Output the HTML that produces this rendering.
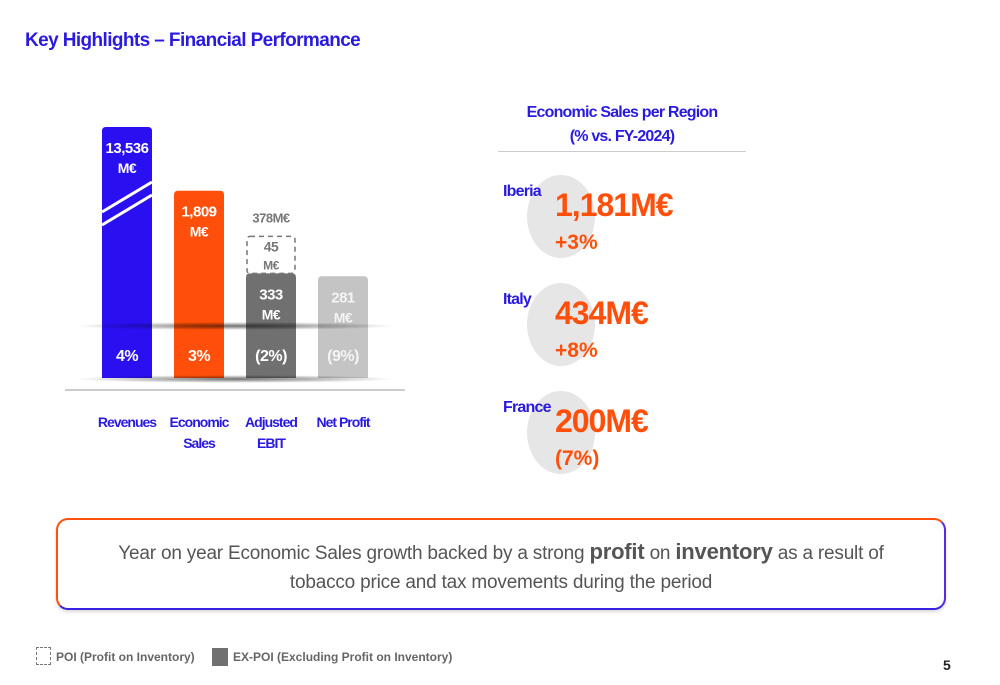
<!DOCTYPE html>
<html><head><meta charset="utf-8"><style>
body{margin:0;width:1000px;height:685px;background:#fff;font-family:"Liberation Sans",sans-serif;position:relative;overflow:hidden}
.t{position:absolute;font-weight:bold}
</style></head><body>
<div class="t" style="left:25px;top:30px;font-size:19px;color:#2a1ae0;letter-spacing:-0.6px">Key Highlights – Financial Performance</div>
<svg id="chart" width="1000" height="685" style="position:absolute;left:0;top:0" font-family="Liberation Sans, sans-serif">
<defs>
<radialGradient id="sh" cx="0.5" cy="0.5" r="0.5"><stop offset="0" stop-color="#000" stop-opacity="0.55"/><stop offset="1" stop-color="#000" stop-opacity="0"/></radialGradient>
</defs>
<g id="bars"></g>
<line x1="65" y1="390" x2="405" y2="390" stroke="#bbb" stroke-width="1.5"/>
</svg>
<div class="t" style="left:498px;top:101px;width:248px;text-align:center;font-size:16px;color:#2a1ae0;line-height:24px;letter-spacing:-0.8px">Economic Sales per Region<br>(% vs. FY-2024)</div>
<div style="position:absolute;left:498px;top:151px;width:248px;height:1px;background:#ccc"></div>
<div id="regions"></div>
<div style="position:absolute;left:56px;top:518px;width:886px;height:88px;border-radius:12px;border:2.5px solid;border-color:#ff5010 #5a2ae0 #3a20e0 #ff5010;background:#fff;box-shadow:0 2px 3px rgba(0,0,0,.15)"></div>
<div style="position:absolute;left:56px;top:537px;width:890px;text-align:center;font-size:19px;color:#555;line-height:29px;letter-spacing:-0.2px">Year on year Economic Sales growth backed by a strong <b style="font-size:22px">profit</b> on <b style="font-size:22px">inventory</b> as a result of<br>tobacco price and tax movements during the period</div>
<div style="position:absolute;left:36px;top:647px;width:15px;height:18px;border:1.5px dashed #777;box-sizing:border-box"></div>
<div class="t" style="left:56px;top:650px;font-size:12px;color:#666">POI (Profit on Inventory)</div>
<div style="position:absolute;left:212px;top:648px;width:16px;height:18px;background:#707070"></div>
<div class="t" style="left:233px;top:650px;font-size:12px;color:#666">EX-POI (Excluding Profit on Inventory)</div>
<div class="t" style="left:943px;top:657px;font-size:14px;color:#222">5</div>
<script>
const categories=["Revenues","Economic Sales","Adjusted EBIT","Net Profit"];
const values=[13536,1809,333,281];
const poiValues=[0,0,45,0];
const changes=["4%","3%","(2%)","(9%)"];
const valueLabels=["13,536","1,809","333","281"];
const regions=["Iberia","Italy","France"];
const regionValues=[1181,434,200];
const regionChanges=["+3%","+8%","(7%)"];
const NS="http://www.w3.org/2000/svg";
const base=378;
function yScale(v){return base-Math.min(251,86+v*0.056);}
const colors=["#2a0ff0","#ff4f0a","#707070","#c4c4c4"];
const g=document.getElementById('bars');
function mk(tag,attrs,parent){const e=document.createElementNS(NS,tag);for(const k in attrs)e.setAttribute(k,attrs[k]);(parent||g).appendChild(e);return e;}
function txt(x,y,s,fill,size,name){const e=mk('text',{x:x,y:y,'text-anchor':'middle','font-weight':'bold','font-size':size,fill:fill,'letter-spacing':'-0.5'});e.textContent=s;return e;}
categories.forEach((c,i)=>{
  const x=102+i*72,w=50;
  const top=yScale(values[i]);
  const r=mk('path',{d:`M${x},${base}V${top+4}Q${x},${top} ${x+4},${top}H${x+w-4}Q${x+w},${top} ${x+w},${top+4}V${base}Z`,fill:colors[i]});
  
  
  if(poiValues[i]>0){
    const pt=top-37;
    const p=mk('rect',{x:x+1,y:pt,width:w-2,height:top-pt,fill:'none',stroke:'#777','stroke-width':1.5,'stroke-dasharray':'5,4',rx:3});
    
    
    txt(x+25,pt+15,String(poiValues[i]),'#777',14,'poi-value');
    txt(x+25,pt+33,'M€','#777',12,'poi-unit');
    txt(x+25,pt-14,(values[i]+poiValues[i])+'M€','#777',13,'ebit-total-label');
  }
  if(i===0){
    mk('line',{x1:x,y1:top+85,x2:x+w,y2:top+55,stroke:'#fff','stroke-width':3});
    mk('line',{x1:x,y1:top+98,x2:x+w,y2:top+68,stroke:'#fff','stroke-width':3});
  }
  const lc=i===3?'#f4f4f4':'#fff';
  txt(x+25,top+26,valueLabels[i],lc,15,'bar-value-'+i);
  txt(x+25,top+46,'M€',lc,14,'bar-unit-'+i);
  txt(x+25,361,changes[i],lc,16,'bar-change-'+i);
  const lines=i===3?[c]:c.split(' ');
  lines.forEach((wd,k)=>{const t=txt(x+25,427+k*21,wd,'#2a1ae0',14,'x-label-'+i);t.setAttribute('letter-spacing','-1');});
});
mk('ellipse',{cx:235,cy:326,rx:160,ry:4,fill:'url(#sh)'});
mk('ellipse',{cx:235,cy:379,rx:160,ry:4,fill:'url(#sh)'});
const rd=document.getElementById('regions');
regions.forEach((r,i)=>{
  const y=175+i*108;
  rd.insertAdjacentHTML('beforeend',`<div style="position:absolute;left:527px;top:${y}px;width:68px;height:83px;border-radius:50%;background:#e6e6e6"></div>
<div class="t" style="left:503px;top:${y+8}px;font-size:16px;color:#2a1ae0;letter-spacing:-0.8px">${r}</div>
<div class="t" style="left:555px;top:${y+12}px;font-size:32px;color:#ff4f0a;letter-spacing:-1px">${regionValues[i].toLocaleString('en-US')}M€</div>
<div class="t" style="left:555px;top:${y+56}px;font-size:21px;color:#ff4f0a">${regionChanges[i]}</div>`);
});
</script>
</body></html>
